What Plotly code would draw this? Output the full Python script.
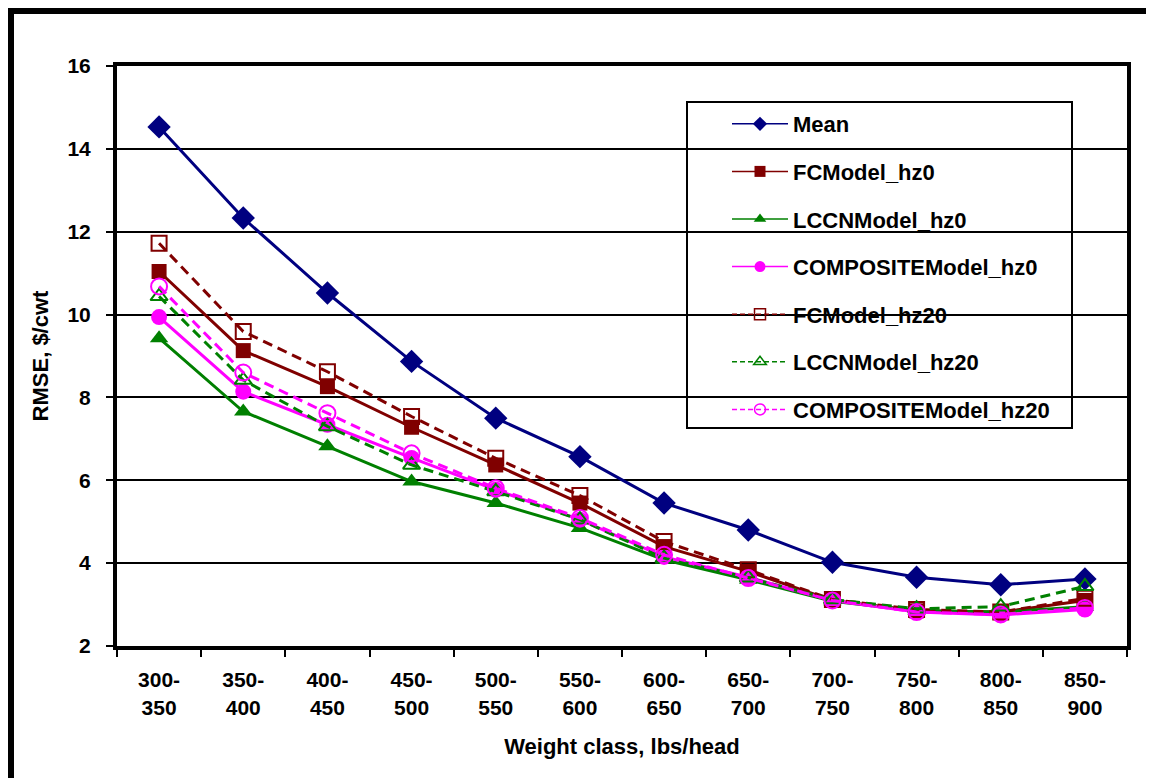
import plotly.graph_objects as go

categories = ["300-<br>350", "350-<br>400", "400-<br>450", "450-<br>500", "500-<br>550", "550-<br>600",
              "600-<br>650", "650-<br>700", "700-<br>750", "750-<br>800", "800-<br>850", "850-<br>900"]

mean_vals = [14.53, 12.33, 10.52, 8.87, 7.50, 6.57, 5.45, 4.80, 4.02, 3.66, 3.48, 3.62]
fc_hz0 = [11.04, 9.13, 8.26, 7.28, 6.37, 5.45, 4.40, 3.80, 3.10, 2.85, 2.82, 3.10]
lccn_hz0 = [9.43, 7.66, 6.82, 5.97, 5.45, 4.85, 4.08, 3.60, 3.08, 2.85, 2.82, 2.95]
comp_hz0 = [9.94, 8.14, 7.34, 6.54, 5.77, 5.05, 4.15, 3.66, 3.10, 2.82, 2.75, 2.88]
fc_hz20 = [11.72, 9.59, 8.62, 7.54, 6.53, 5.63, 4.52, 3.84, 3.12, 2.88, 2.82, 3.15]
lccn_hz20 = [10.44, 8.42, 7.30, 6.37, 5.73, 5.05, 4.12, 3.65, 3.12, 2.90, 2.95, 3.44]
comp_hz20 = [10.68, 8.60, 7.62, 6.65, 5.81, 5.09, 4.20, 3.64, 3.10, 2.82, 2.76, 2.92]

y_ticks = [2, 4, 6, 8, 10, 12, 14, 16]

NAVY = "#000080"
MAROON = "#800000"
GREEN = "#008000"
MAGENTA = "#FF00FF"

series = [
    ("Mean", mean_vals, NAVY, "diamond", "solid", 18),
    ("FCModel_hz0", fc_hz0, MAROON, "square", "solid", 15),
    ("LCCNModel_hz0", lccn_hz0, GREEN, "triangle-up", "solid", 16),
    ("COMPOSITEModel_hz0", comp_hz0, MAGENTA, "circle", "solid", 16),
    ("FCModel_hz20", fc_hz20, MAROON, "square-open", "dash", 15),
    ("LCCNModel_hz20", lccn_hz20, GREEN, "triangle-up-open", "dash", 15),
    ("COMPOSITEModel_hz20", comp_hz20, MAGENTA, "circle-open", "dash", 16),
]

FONT = "Arial, Liberation Sans, sans-serif"

fig = go.Figure()
for name, vals, color, sym, dash, size in series:
    is_open = sym.endswith("open")
    fig.add_trace(go.Scatter(
        x=categories, y=vals, mode="lines+markers", name=name, showlegend=False,
        line=dict(color=color, width=3, dash="10px,6px" if dash == "dash" else "solid"),
        marker=dict(symbol=sym, size=size, color=color,
                    line=dict(color=color, width=2 if is_open else 0)),
    ))

# legend entries (smaller symbols, thinner lines, like the original legend)
for i, (name, vals, color, sym, dash, size) in enumerate(series):
    is_open = sym.endswith("open")
    fig.add_trace(go.Scatter(
        x=[None], y=[None], mode="lines+markers", name=name, legendgroup=f"g{i}",
        line=dict(color=color, width=1.5, dash="5px,3px" if dash == "dash" else "solid"),
        marker=dict(symbol=sym, size=11, color=color,
                    line=dict(color=color, width=1.5 if is_open else 0)),
    ))

# page has an 8px body margin: reference page pixel p -> figure pixel p - 8
OFF = 8
W, H = 1146, 770
L = 117 - OFF
T = 66 - OFF
R = W - (1127 - OFF)
B = H - (646 - OFF)
PW, PH = W - L - R, H - T - B


def px_x(px):
    return (px - OFF - L) / PW


def px_y(py):
    return (H - B - (py - OFF)) / PH


fig.update_layout(
    width=W, height=H,
    margin=dict(l=L, r=R, t=T, b=B),
    paper_bgcolor="white", plot_bgcolor="white",
    font=dict(family=FONT, color="black", size=20),
    showlegend=True,
    legend=dict(
        x=px_x(727), y=px_y(103), xanchor="left", yanchor="top",
        bgcolor="rgba(0,0,0,0)", borderwidth=0,
        font=dict(family=FONT, size=22, color="black", weight="bold"),
        itemwidth=56, traceorder="grouped", tracegroupgap=16,
    ),
    xaxis=dict(
        type="category", showgrid=False, showline=True, linecolor="black", linewidth=4,
        mirror=True, ticks="outside", tickson="boundaries", ticklen=7, tickwidth=1.5,
        tickcolor="black", ticklabelstandoff=12,
        tickfont=dict(family=FONT, size=21, color="black", weight="bold"),
        title=dict(text="Weight class, lbs/head", standoff=22,
                   font=dict(family=FONT, size=22, color="black", weight="bold")),
        range=[-0.5, 11.5],
    ),
    yaxis=dict(
        range=[2, 16], tickvals=y_ticks, showgrid=True, gridcolor="black", gridwidth=1.5,
        showline=True, linecolor="black", linewidth=4, mirror=True,
        ticks="outside", ticklen=7, tickwidth=1.5, tickcolor="black",
        ticklabelstandoff=11,
        tickfont=dict(family=FONT, size=21, color="black", weight="bold"),
        title=dict(text="RMSE, $/cwt", standoff=14,
                   font=dict(family=FONT, size=22, color="black", weight="bold")),
        zeroline=False,
    ),
    shapes=[
        # legend box
        dict(type="rect", xref="paper", yref="paper",
             x0=px_x(687), x1=px_x(1072), y0=px_y(428), y1=px_y(102),
             line=dict(color="black", width=2), fillcolor="white", layer="below"),
        # outer frame
        dict(type="rect", xref="paper", yref="paper",
             x0=px_x(11), x1=px_x(1230), y0=px_y(850), y1=px_y(11),
             line=dict(color="black", width=6), fillcolor="rgba(0,0,0,0)", layer="above"),
    ],
)

fig.write_html("out.html")
